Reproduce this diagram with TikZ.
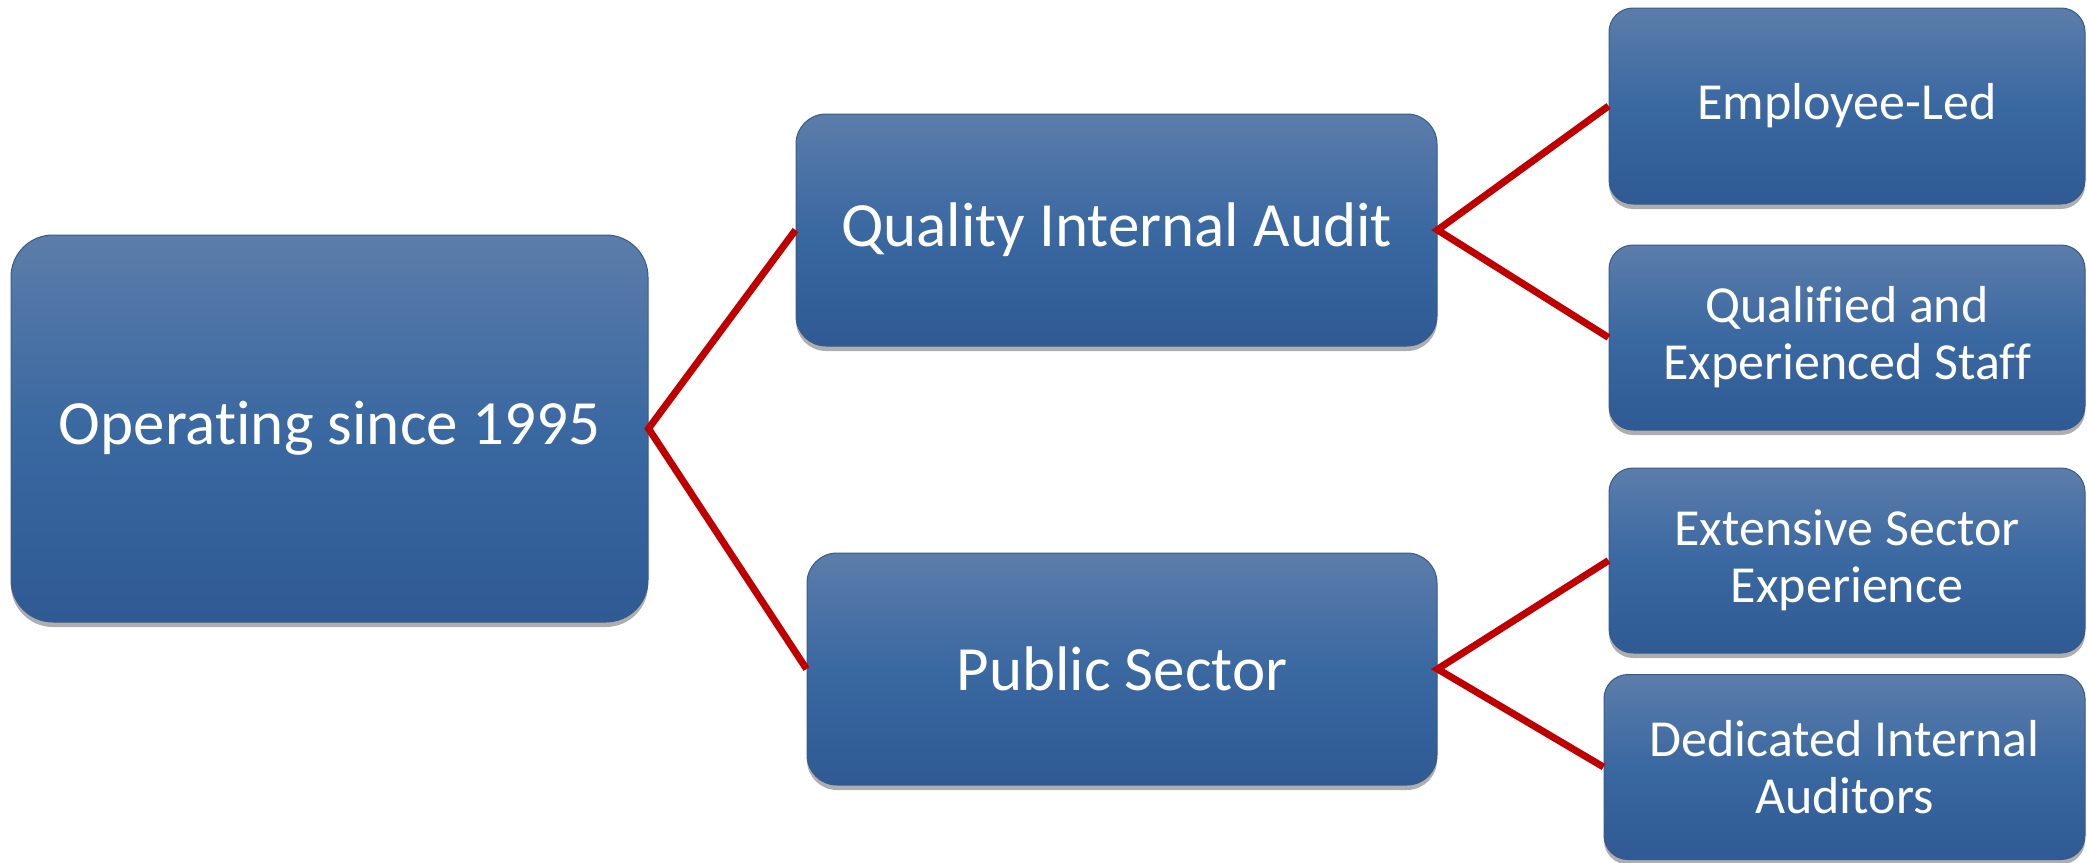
\documentclass[tikz,border=0pt]{standalone}
\usepackage{fontspec}
\setmainfont[Ligatures={NoCommon}]{Carlito}
\usetikzlibrary{shadows}
\definecolor{boxtop}{RGB}{92,125,170}
\definecolor{boxmid}{RGB}{58,104,161}
\definecolor{boxbot}{RGB}{47,90,148}
\definecolor{boxedge}{RGB}{55,90,140}
\definecolor{connred}{RGB}{192,0,0}
\tikzset{
  boxstyle/.style={rectangle, draw=boxedge, line width=1pt,
    top color=boxtop, bottom color=boxbot, middle color=boxmid,
    text=white, align=center, inner sep=0pt,
    drop shadow={shadow xshift=0pt, shadow yshift=-5pt, opacity=0.45, fill=black!70}},
  bigbox/.style={boxstyle, font=\fontsize{63}{72}\selectfont},
  leafbox/.style={boxstyle, rounded corners=24pt, font=\fontsize{52}{57}\selectfont},
  conn/.style={draw=connred, line width=7pt, line join=miter}
}
\begin{document}
\begin{tikzpicture}[x=1pt,y=-1pt]
\useasboundingbox (0,0) rectangle (2087,862);
\node[bigbox, rounded corners=42pt, minimum width=637pt, minimum height=387pt] (root) at (329.5,428.5) {Operating since 1995};
\node[bigbox, rounded corners=30pt, minimum width=641pt, minimum height=232pt] (qia) at (1116.5,230) {Quality Internal Audit};
\node[bigbox, rounded corners=30pt, minimum width=630pt, minimum height=232pt] (ps) at (1122,669) {Public Sector};
\node[leafbox, minimum width=476pt, minimum height=196pt] (el) at (1847,106) {Employee-Led};
\node[leafbox, minimum width=476pt, minimum height=185pt] (qs) at (1847,337.5) {Qualified and\\Experienced Staff};
\node[leafbox, minimum width=476pt, minimum height=185pt] (es) at (1847,560.5) {Extensive Sector\\Experience};
\node[leafbox, minimum width=481pt, minimum height=185pt] (di) at (1844.5,767) {Dedicated Internal\\Auditors};
\draw[conn] (qia.west) -- (root.east) -- (ps.west);
\draw[conn] (el.west) -- (qia.east) -- (qs.west);
\draw[conn] (es.west) -- (ps.east) -- (di.west);
\end{tikzpicture}
\end{document}
